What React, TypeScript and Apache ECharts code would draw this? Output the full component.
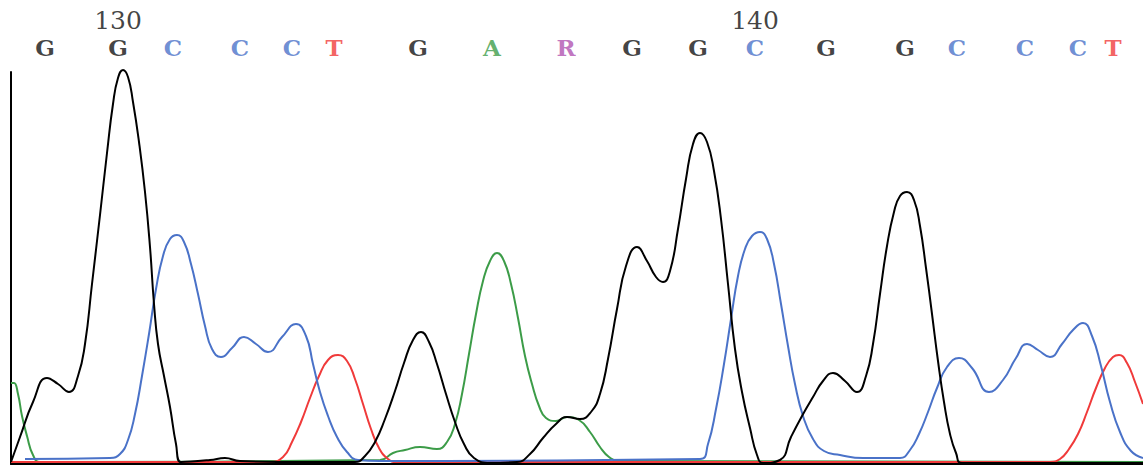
import React, { useEffect, useRef } from "react";
import * as echarts from "echarts";

// Base calls and their scan positions
const baseCalls = ["G", "G", "C", "C", "C", "T", "G", "A", "R", "G", "G", "C", "G", "G", "C", "C", "C", "T"];
const basePositions = [45, 118, 173, 240, 292, 334, 418, 492, 566, 632, 698, 755, 826, 905, 957, 1025, 1078, 1113];
const firstBaseNumber = 129;

// Trace samples: [scan, signal]
const traceG: [number, number][] = [
  [11, 2], [20, 27], [33, 62], [47, 86], [58, 80], [69, 72], [78, 88], [85, 120], [92, 180], [100, 249],
  [107, 311], [113, 360], [118, 386], [123, 394], [128, 387], [133, 362], [139, 322], [145, 272], [150, 217],
  [154, 160], [158, 120], [164, 88], [170, 57], [176, 20], [181, 2], [210, 4], [225, 6], [240, 3], [300, 2],
  [355, 2], [365, 8], [375, 22], [385, 45], [395, 73], [404, 101], [413, 124], [421, 132], [429, 122],
  [437, 100], [446, 70], [455, 42], [464, 20], [474, 6], [490, 1], [517, 2], [530, 10], [543, 26], [556, 40],
  [567, 47], [580, 45], [591, 52], [600, 70], [608, 105], [617, 155], [626, 198], [637, 217], [647, 203],
  [656, 187], [663, 182], [670, 193], [678, 235], [686, 285], [693, 320], [700, 331], [707, 322], [714, 293],
  [721, 245], [728, 180], [735, 115], [742, 72], [750, 36], [757, 9], [763, 1], [780, 4], [791, 27],
  [802, 48], [813, 67], [823, 83], [833, 91], [845, 83], [857, 72], [866, 88], [873, 120], [880, 170],
  [887, 218], [894, 252], [900, 268], [907, 272], [914, 264], [920, 238], [926, 196], [932, 150], [938, 103],
  [944, 62], [950, 30], [956, 11], [962, 1], [1143, 1],
];

const traceC: [number, number][] = [
  [25, 5], [110, 6], [120, 10], [128, 24], [135, 50], [142, 88], [149, 130], [156, 175], [163, 208],
  [170, 225], [177, 229], [184, 222], [191, 200], [198, 170], [205, 138], [212, 115], [221, 107], [232, 116],
  [244, 127], [256, 120], [268, 112], [282, 127], [296, 140], [306, 128], [313, 100], [320, 72], [328, 48],
  [337, 27], [347, 12], [358, 4], [380, 3], [700, 5], [708, 20], [716, 55], [724, 100], [731, 145],
  [738, 188], [745, 215], [752, 228], [760, 232], [767, 225], [774, 200], [781, 160], [788, 118], [795, 80],
  [803, 48], [813, 25], [824, 13], [840, 9], [863, 6], [900, 6], [910, 14], [919, 30], [928, 52], [937, 76],
  [947, 97], [959, 106], [972, 96], [989, 72], [1003, 84], [1016, 106], [1027, 120], [1038, 114],
  [1050, 107], [1062, 120], [1073, 134], [1083, 141], [1092, 128], [1101, 98], [1110, 62], [1120, 32],
  [1131, 13], [1143, 6],
];

const traceT: [number, number][] = [
  [11, 2], [270, 2], [283, 7], [292, 22], [301, 42], [310, 66], [319, 88], [328, 104], [338, 109],
  [347, 103], [355, 85], [363, 60], [371, 35], [379, 16], [388, 5], [396, 2], [1050, 2], [1060, 5],
  [1069, 15], [1078, 30], [1087, 52], [1096, 76], [1105, 96], [1113, 107], [1119, 109], [1127, 101],
  [1135, 82], [1143, 60],
];

const traceA: [number, number][] = [
  [11, 81], [14, 81], [18, 70], [22, 48], [27, 28], [33, 9], [40, 2], [380, 4], [393, 11], [405, 14],
  [420, 17], [437, 15], [447, 22], [455, 40], [462, 70], [469, 110], [476, 150], [483, 183], [490, 203],
  [497, 211], [504, 203], [511, 180], [518, 146], [525, 108], [532, 80], [539, 58], [546, 46], [556, 43],
  [567, 47], [579, 44], [590, 32], [600, 17], [609, 7], [618, 3], [1143, 2],
];

const baseColors: Record<string, string> = {
  G: "#111111",
  C: "#4a72c8",
  T: "#f03a3a",
  A: "#3c9c48",
  R: "#b052b0",
};

export default function App() {
  const ref = useRef<HTMLDivElement>(null);

  useEffect(() => {
    if (!ref.current) return;
    const chart = echarts.init(ref.current, undefined, { renderer: "svg" });

    const traceSeries = (name: string, data: [number, number][], color: string) => ({
      name,
      type: "line",
      data,
      smooth: 0.5,
      symbol: "none",
      clip: false,
      lineStyle: { color, width: 2 },
      z: 2,
    });

    const letterData = baseCalls.map((b, i) => ({
      name: b,
      value: [basePositions[i], 417],
      label: { color: baseColors[b] },
    }));

    const numberData = baseCalls
      .map((_, i) => ({ n: firstBaseNumber + i, x: basePositions[i] }))
      .filter((d) => d.n % 10 === 0)
      .map((d) => ({ name: String(d.n), value: [d.x, 444] }));

    chart.setOption({
      animation: false,
      backgroundColor: "#ffffff",
      grid: { left: 11, right: 0, top: 72, bottom: 2 },
      xAxis: {
        type: "value",
        min: 11,
        max: 1143,
        axisLine: { show: true, onZero: false, lineStyle: { color: "#000", width: 2 } },
        axisTick: { show: false },
        axisLabel: { show: false },
        splitLine: { show: false },
      },
      yAxis: {
        type: "value",
        min: 0,
        max: 392,
        axisLine: { show: true, lineStyle: { color: "#000", width: 2 } },
        axisTick: { show: false },
        axisLabel: { show: false },
        splitLine: { show: false },
      },
      series: [
        traceSeries("A", traceA, baseColors.A),
        traceSeries("T", traceT, baseColors.T),
        traceSeries("C", traceC, baseColors.C),
        traceSeries("G", traceG, "#000000"),
        {
          name: "bases",
          type: "scatter",
          data: letterData,
          symbolSize: 1,
          clip: false,
          itemStyle: { color: "rgba(0,0,0,0)" },
          label: {
            show: true,
            position: "inside",
            formatter: (p: any) => p.name,
            fontFamily: "DejaVu Serif",
            fontWeight: "bold",
            fontSize: 23,
          },
          silent: true,
        },
        {
          name: "numbers",
          type: "scatter",
          data: numberData,
          symbolSize: 1,
          clip: false,
          itemStyle: { color: "rgba(0,0,0,0)" },
          label: {
            show: true,
            position: "inside",
            formatter: (p: any) => p.name,
            fontFamily: "DejaVu Serif",
            fontSize: 25,
            color: "#111",
          },
          silent: true,
        },
      ],
    });

    return () => chart.dispose();
  }, []);

  return (
    <div
      ref={ref}
      style={{ position: "fixed", left: 0, top: 0, width: 1143, height: 466, background: "#fff" }}
    />
  );
}
